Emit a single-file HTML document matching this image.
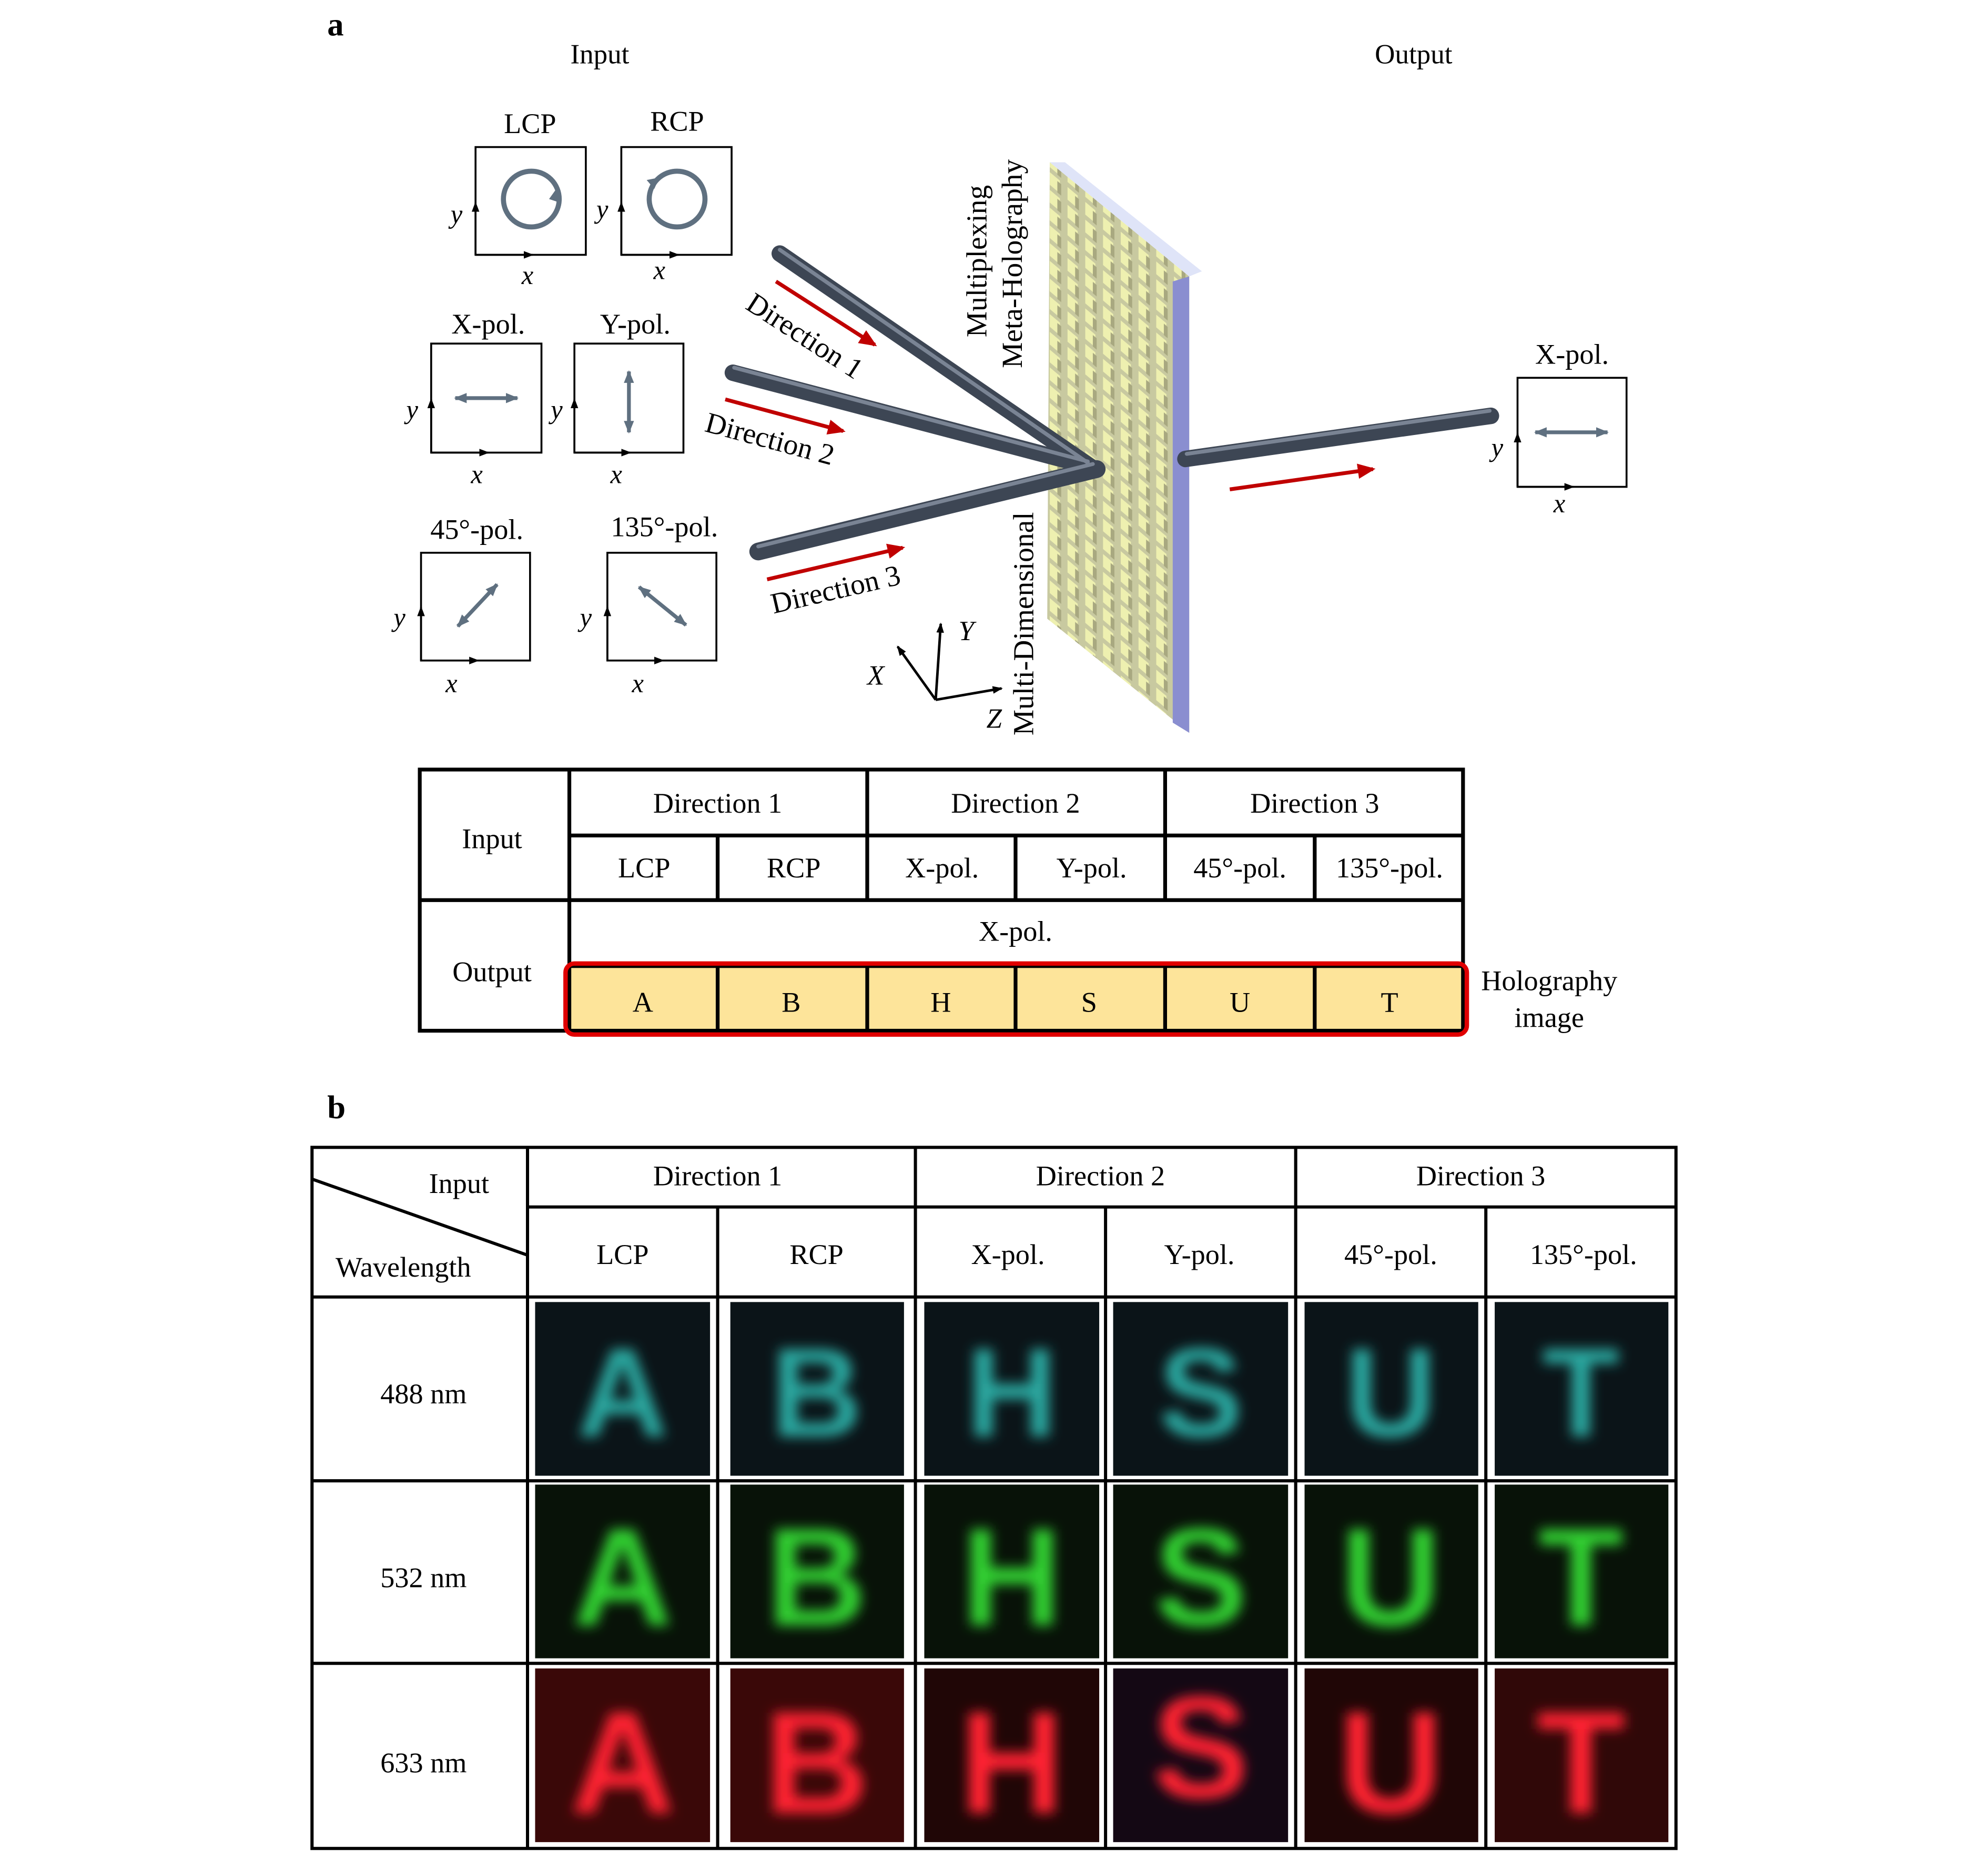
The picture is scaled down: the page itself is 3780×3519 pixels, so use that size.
<!DOCTYPE html>
<html><head><meta charset="utf-8"><style>
html,body{margin:0;padding:0;background:#fff}
svg{display:block}
</style></head><body>
<svg width="3780" height="3519" viewBox="0 0 1568 1460" xmlns="http://www.w3.org/2000/svg" font-family="Liberation Serif, serif">
<defs>
<marker id="ah" markerWidth="8" markerHeight="8" refX="7" refY="4" orient="auto" markerUnits="userSpaceOnUse"><path d="M0,1 L8,4 L0,7 z" fill="#000"/></marker>
<marker id="ag" markerWidth="10" markerHeight="10" refX="9" refY="5" orient="auto-start-reverse" markerUnits="userSpaceOnUse"><path d="M0,1 L10,5 L0,9 z" fill="#5f7080"/></marker>
<marker id="ar" markerWidth="14" markerHeight="12" refX="12" refY="6" orient="auto" markerUnits="userSpaceOnUse"><path d="M0,0 L14,6 L0,12 z" fill="#c00000"/></marker>
<pattern id="pil" width="14" height="14" patternUnits="userSpaceOnUse" patternTransform="skewY(40)">
<rect width="14" height="14" fill="#c8c9a0"/><rect x="2" y="1" width="8" height="10" fill="#eef0b0"/><rect x="8" y="3" width="3" height="9" fill="#a8a880"/></pattern>
<filter id="bl" x="-30%" y="-30%" width="160%" height="160%"><feGaussianBlur stdDeviation="5"/></filter>
</defs>

<text x="258" y="28" font-size="26" font-weight="bold">a</text>
<text x="473" y="50" font-size="22" text-anchor="middle">Input</text>
<text x="1115" y="50" font-size="22" text-anchor="middle">Output</text>

<g stroke="#000" stroke-width="1.5" fill="none">
<rect x="375" y="116" width="87" height="85"/>
<rect x="490" y="116" width="87" height="85"/>
<rect x="340" y="271" width="87" height="86"/>
<rect x="453" y="271" width="86" height="86"/>
<rect x="332" y="436" width="86" height="85"/>
<rect x="479" y="436" width="86" height="85"/>
<rect x="1197" y="298" width="86" height="86"/>
</g>
<g stroke="#000" stroke-width="1.5" marker-end="url(#ah)">
<line x1="375" y1="201" x2="375" y2="160"/><line x1="375" y1="201" x2="420" y2="201"/>
<line x1="490" y1="201" x2="490" y2="160"/><line x1="490" y1="201" x2="535" y2="201"/>
<line x1="340" y1="357" x2="340" y2="315"/><line x1="340" y1="357" x2="385" y2="357"/>
<line x1="453" y1="357" x2="453" y2="315"/><line x1="453" y1="357" x2="497" y2="357"/>
<line x1="332" y1="521" x2="332" y2="479"/><line x1="332" y1="521" x2="377" y2="521"/>
<line x1="479" y1="521" x2="479" y2="479"/><line x1="479" y1="521" x2="523" y2="521"/>
<line x1="1197" y1="384" x2="1197" y2="342"/><line x1="1197" y1="384" x2="1241" y2="384"/>
</g>
<g font-size="21" font-style="italic" text-anchor="middle">
<text x="360" y="176">y</text><text x="416" y="224">x</text>
<text x="475" y="172">y</text><text x="520" y="220">x</text>
<text x="325" y="330">y</text><text x="376" y="381">x</text>
<text x="439" y="330">y</text><text x="486" y="381">x</text>
<text x="315" y="494">y</text><text x="356" y="546">x</text>
<text x="462" y="494">y</text><text x="503" y="546">x</text>
<text x="1181" y="360">y</text><text x="1230" y="404">x</text>
</g>
<g font-size="22.5" text-anchor="middle">
<text x="418" y="105">LCP</text><text x="534" y="103">RCP</text>
<text x="385" y="263">X-pol.</text><text x="501" y="263">Y-pol.</text>
<text x="376" y="425">45°-pol.</text><text x="524" y="423">135°-pol.</text>
<text x="1240" y="287">X-pol.</text>
</g>
<g stroke="#5f7080" stroke-width="4" fill="none">
<circle cx="419" cy="157" r="22"/><circle cx="534" cy="157" r="22"/>
</g>
<path d="M438,150 l4,10 l-9,-3 z" fill="#5f7080"/>
<path d="M520,140 l-10,2 l6,7 z" fill="#5f7080"/>
<g stroke="#5f7080" stroke-width="3" marker-start="url(#ag)" marker-end="url(#ag)">
<line x1="359" y1="314" x2="408" y2="314"/>
<line x1="496" y1="293" x2="496" y2="341"/>
<line x1="361" y1="494" x2="392" y2="461"/>
<line x1="504" y1="463" x2="541" y2="493"/>
<line x1="1211" y1="341" x2="1268" y2="341"/>
</g>

<polygon points="828,128 938,218 938,578 826,488" fill="url(#pil)"/>
<polygon points="828,128 840,128 948,214 938,218" fill="#dfe4f8"/>
<polygon points="925,222 938,218 938,578 925,570" fill="#8a8ed0"/>

<g stroke-linecap="round">
<line x1="615" y1="200" x2="860" y2="368" stroke="#3d4654" stroke-width="13"/>
<line x1="578" y1="294" x2="860" y2="368" stroke="#3d4654" stroke-width="13"/>
<line x1="598" y1="435" x2="865" y2="370" stroke="#3d4654" stroke-width="14"/>
<line x1="935" y1="362" x2="1176" y2="328" stroke="#3d4654" stroke-width="13"/>
<line x1="615" y1="197" x2="858" y2="365" stroke="#7a8494" stroke-width="3"/>
<line x1="579" y1="290" x2="858" y2="364" stroke="#7a8494" stroke-width="3"/>
<line x1="598" y1="431" x2="862" y2="366" stroke="#7a8494" stroke-width="3"/>
<line x1="936" y1="358" x2="1175" y2="324" stroke="#7a8494" stroke-width="3"/>
</g>
<g stroke="#c00000" stroke-width="3" marker-end="url(#ar)">
<line x1="612" y1="222" x2="690" y2="272"/>
<line x1="572" y1="315" x2="665" y2="340"/>
<line x1="605" y1="457" x2="712" y2="432"/>
<line x1="970" y1="386" x2="1083" y2="370"/>
</g>
<g font-size="23">
<text transform="translate(587,243) rotate(33)">Direction 1</text>
<text transform="translate(555,340) rotate(15)">Direction 2</text>
<text transform="translate(610,484) rotate(-13)">Direction 3</text>
</g>
<g font-size="23" text-anchor="middle">
<text transform="translate(778,206) rotate(-90)">Multiplexing</text>
<text transform="translate(806,208) rotate(-90)">Meta-Holography</text>
<text transform="translate(815,492) rotate(-90)">Multi-Dimensional</text>
</g>
<g stroke="#000" stroke-width="2" marker-end="url(#ah)">
<line x1="738" y1="552" x2="742" y2="492"/>
<line x1="738" y1="552" x2="708" y2="510"/>
<line x1="738" y1="552" x2="790" y2="543"/>
</g>
<g font-size="22" font-style="italic">
<text x="756" y="505">Y</text><text x="684" y="540">X</text><text x="778" y="574">Z</text>
</g>

<rect x="449" y="762" width="705" height="51" fill="#fde49a"/>
<g stroke="#000" stroke-width="3" fill="none">
<rect x="331" y="607" width="823" height="206"/>
<line x1="449" y1="607" x2="449" y2="813"/>
<line x1="449" y1="659" x2="1154" y2="659"/>
<line x1="331" y1="710" x2="1154" y2="710"/>
<line x1="449" y1="762" x2="1154" y2="762"/>
<line x1="684" y1="607" x2="684" y2="710"/><line x1="919" y1="607" x2="919" y2="710"/>
<line x1="566" y1="659" x2="566" y2="710"/><line x1="801" y1="659" x2="801" y2="710"/><line x1="1037" y1="659" x2="1037" y2="710"/>
<line x1="566" y1="762" x2="566" y2="813"/><line x1="684" y1="762" x2="684" y2="813"/><line x1="801" y1="762" x2="801" y2="813"/><line x1="919" y1="762" x2="919" y2="813"/><line x1="1037" y1="762" x2="1037" y2="813"/>
</g>
<rect x="446" y="760" width="711" height="56" rx="7" fill="none" stroke="#e00000" stroke-width="3.5"/>
<g font-size="22.5" text-anchor="middle">
<text x="388" y="669">Input</text><text x="388" y="774">Output</text>
<text x="566" y="641">Direction 1</text><text x="801" y="641">Direction 2</text><text x="1037" y="641">Direction 3</text>
<text x="508" y="692">LCP</text><text x="626" y="692">RCP</text><text x="743" y="692">X-pol.</text><text x="861" y="692">Y-pol.</text><text x="978" y="692">45°-pol.</text><text x="1096" y="692">135°-pol.</text>
<text x="801" y="742">X-pol.</text>
<text x="507" y="798">A</text><text x="624" y="798">B</text><text x="742" y="798">H</text><text x="859" y="798">S</text><text x="978" y="798">U</text><text x="1096" y="798">T</text>
<text x="1222" y="781">Holography</text><text x="1222" y="810">image</text>
</g>

<text x="258" y="882" font-size="26" font-weight="bold">b</text>
<g>
<rect x="422" y="1027" width="138" height="137" fill="#0b1418"/><rect x="576" y="1027" width="137" height="137" fill="#0b1418"/><rect x="729" y="1027" width="138" height="137" fill="#0b1418"/><rect x="878" y="1027" width="138" height="137" fill="#0b1418"/><rect x="1029" y="1027" width="137" height="137" fill="#0b1418"/><rect x="1179" y="1027" width="137" height="137" fill="#0b1418"/>
<g fill="#2aa8a0" font-family="Liberation Sans, sans-serif" font-weight="bold" font-size="100" text-anchor="middle" filter="url(#bl)">
<text x="491" y="1133">A</text><text x="644" y="1133">B</text><text x="798" y="1133">H</text><text x="947" y="1133">S</text><text x="1097" y="1133">U</text><text x="1247" y="1133">T</text></g>
</g>
<g>
<rect x="422" y="1171" width="138" height="137" fill="#081208"/><rect x="576" y="1171" width="137" height="137" fill="#081208"/><rect x="729" y="1171" width="138" height="137" fill="#081208"/><rect x="878" y="1171" width="138" height="137" fill="#081208"/><rect x="1029" y="1171" width="137" height="137" fill="#081208"/><rect x="1179" y="1171" width="137" height="137" fill="#081208"/>
<g fill="#30d030" font-family="Liberation Sans, sans-serif" font-weight="bold" font-size="110" text-anchor="middle" filter="url(#bl)">
<text x="491" y="1282">A</text><text x="644" y="1282">B</text><text x="798" y="1282">H</text><text x="947" y="1282">S</text><text x="1097" y="1282">U</text><text x="1247" y="1282">T</text></g>
</g>
<g>
<rect x="422" y="1316" width="138" height="137" fill="#3a0808"/><rect x="576" y="1316" width="137" height="137" fill="#3a0808"/><rect x="729" y="1316" width="138" height="137" fill="#200606"/><rect x="878" y="1316" width="138" height="137" fill="#140814"/><rect x="1029" y="1316" width="137" height="137" fill="#200606"/><rect x="1179" y="1316" width="137" height="137" fill="#300808"/>
<g fill="#ff2030" font-family="Liberation Sans, sans-serif" font-weight="bold" font-size="115" text-anchor="middle" filter="url(#bl)">
<text x="491" y="1430">A</text><text x="644" y="1430">B</text><text x="798" y="1430">H</text><text x="947" y="1418">S</text><text x="1097" y="1430">U</text><text x="1247" y="1430">T</text></g>
</g>
<g stroke="#000" stroke-width="2.5" fill="none">
<rect x="246" y="905" width="1076" height="553"/>
<line x1="416" y1="905" x2="416" y2="1458"/>
<line x1="416" y1="952" x2="1322" y2="952"/>
<line x1="246" y1="1023" x2="1322" y2="1023"/>
<line x1="246" y1="1168" x2="1322" y2="1168"/>
<line x1="246" y1="1312" x2="1322" y2="1312"/>
<line x1="722" y1="905" x2="722" y2="1458"/><line x1="1022" y1="905" x2="1022" y2="1458"/>
<line x1="566" y1="952" x2="566" y2="1458"/><line x1="872" y1="952" x2="872" y2="1458"/><line x1="1172" y1="952" x2="1172" y2="1458"/>
<line x1="246" y1="930" x2="416" y2="990"/>
</g>
<g font-size="22.5" text-anchor="middle">
<text x="362" y="941">Input</text><text x="318" y="1007">Wavelength</text>
<text x="566" y="935">Direction 1</text><text x="868" y="935">Direction 2</text><text x="1168" y="935">Direction 3</text>
<text x="491" y="997">LCP</text><text x="644" y="997">RCP</text><text x="795" y="997">X-pol.</text><text x="946" y="997">Y-pol.</text><text x="1097" y="997">45°-pol.</text><text x="1249" y="997">135°-pol.</text>
<text x="334" y="1107">488 nm</text><text x="334" y="1252">532 nm</text><text x="334" y="1398">633 nm</text>
</g>
</svg>
</body></html>
